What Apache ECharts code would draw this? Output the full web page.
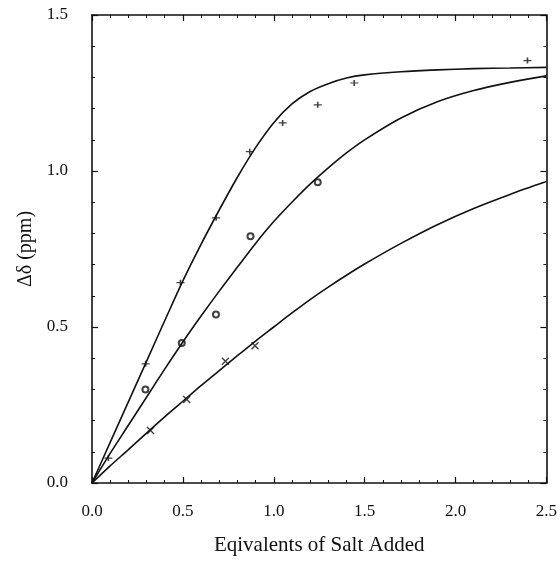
<!DOCTYPE html>
<html>
<head>
<meta charset="utf-8">
<script src="https://cdn.jsdelivr.net/npm/echarts@6/dist/echarts.min.js"></script>
<style>
  html, body { margin: 0; padding: 0; background: #fff; }
  #chart { width: 560px; height: 561px; }
</style>
</head>
<body>
<div id="chart"></div>
<script>
  // measured points
  const plusX = [0.09, 0.295, 0.487, 0.683, 0.868, 1.049, 1.242, 1.443, 2.396]
  const plusY = [0.08, 0.382, 0.642, 0.85, 1.062, 1.154, 1.212, 1.282, 1.354]
  const circleX = [0.294, 0.494, 0.682, 0.872, 1.242]
  const circleY = [0.30, 0.449, 0.54, 0.791, 0.964]
  const crossX = [0.322, 0.521, 0.734, 0.897]
  const crossY = [0.168, 0.268, 0.39, 0.44]

  // fitted curves
  const curveX = [0, 0.1, 0.2, 0.3, 0.4, 0.5, 0.6, 0.7, 0.8, 0.9, 1.0, 1.1, 1.2, 1.3, 1.4, 1.5, 1.7, 1.9, 2.1, 2.3, 2.5]
  const fitTop = [0, 0.13, 0.26, 0.39, 0.52, 0.648, 0.765, 0.875, 0.98, 1.075, 1.155, 1.215, 1.255, 1.28, 1.298, 1.308, 1.318, 1.324, 1.328, 1.33, 1.332]
  const fitMid = [0, 0.095, 0.185, 0.275, 0.365, 0.452, 0.535, 0.615, 0.692, 0.768, 0.838, 0.9, 0.958, 1.01, 1.058, 1.1, 1.17, 1.222, 1.258, 1.284, 1.305]
  const fitLow = [0, 0.055, 0.107, 0.16, 0.212, 0.262, 0.312, 0.36, 0.408, 0.455, 0.5, 0.545, 0.588, 0.628, 0.666, 0.702, 0.768, 0.828, 0.88, 0.925, 0.966]

  const xTicks = ['0.0', '0.5', '1.0', '1.5', '2.0', '2.5']
  const yTicks = ['0.0', '0.5', '1.0', '1.5']

  const FONT = 'Liberation Serif'
  const INK = '#111'

  function pairs(xs, ys) {
    return xs.map((x, i) => [x, ys[i]])
  }

  function frameAxis(pos, isX, showLabel) {
    return {
      type: 'value',
      position: pos,
      min: 0,
      max: isX ? 2.5 : 1.5,
      interval: 0.5,
      axisLine: { show: true, onZero: false, lineStyle: { color: INK, width: 1.6 } },
      axisTick: { show: true, inside: true, length: 6, lineStyle: { color: INK, width: 1.2 } },
      minorTick: { show: true, splitNumber: 5, length: 3, lineStyle: { color: INK, width: 1 } },
      splitLine: { show: false },
      axisLabel: {
        show: showLabel,
        margin: isX ? 20 : 24,
        color: INK,
        fontFamily: FONT,
        fontSize: 17,
        formatter: function (v) {
          const list = isX ? xTicks : yTicks
          return list[Math.round(v / 0.5)]
        }
      }
    }
  }

  const xBottom = frameAxis('bottom', true, true)
  xBottom.name = 'Eqivalents of Salt Added'
  xBottom.nameLocation = 'middle'
  xBottom.nameGap = 52
  xBottom.nameTextStyle = { color: INK, fontFamily: FONT, fontSize: 21 }

  const yLeft = frameAxis('left', false, true)
  yLeft.name = 'Δδ (ppm)'
  yLeft.nameLocation = 'middle'
  yLeft.nameGap = 52
  yLeft.nameTextStyle = { color: INK, fontFamily: FONT, fontSize: 20 }

  const lineStyle = { color: INK, width: 1.6 }

  const chart = echarts.init(document.getElementById('chart'))
  chart.setOption({
    animation: false,
    backgroundColor: '#fff',
    grid: { left: 92, right: 13, top: 15, bottom: 75 },
    xAxis: [xBottom, frameAxis('top', true, false)],
    yAxis: [yLeft, frameAxis('right', false, false)],
    series: [
      { type: 'line', data: pairs(curveX, fitTop), smooth: 0.3, showSymbol: false, lineStyle: lineStyle },
      { type: 'line', data: pairs(curveX, fitMid), smooth: 0.3, showSymbol: false, lineStyle: lineStyle },
      { type: 'line', data: pairs(curveX, fitLow), smooth: 0.3, showSymbol: false, lineStyle: lineStyle },
      {
        type: 'scatter',
        data: pairs(plusX, plusY),
        symbol: 'path://M0,5L10,5M5,1L5,9',
        symbolSize: [8, 6],
        itemStyle: { color: INK, borderColor: INK, borderWidth: 1.4 }
      },
      {
        type: 'scatter',
        data: pairs(circleX, circleY),
        symbol: 'emptyCircle',
        symbolSize: 6,
        itemStyle: { color: INK, borderColor: INK, borderWidth: 1.3 }
      },
      {
        type: 'scatter',
        data: pairs(crossX, crossY),
        symbol: 'path://M0,0L10,10M10,0L0,10',
        symbolSize: 7,
        itemStyle: { color: INK, borderColor: INK, borderWidth: 1.4 }
      }
    ]
  })
</script>
</body>
</html>
